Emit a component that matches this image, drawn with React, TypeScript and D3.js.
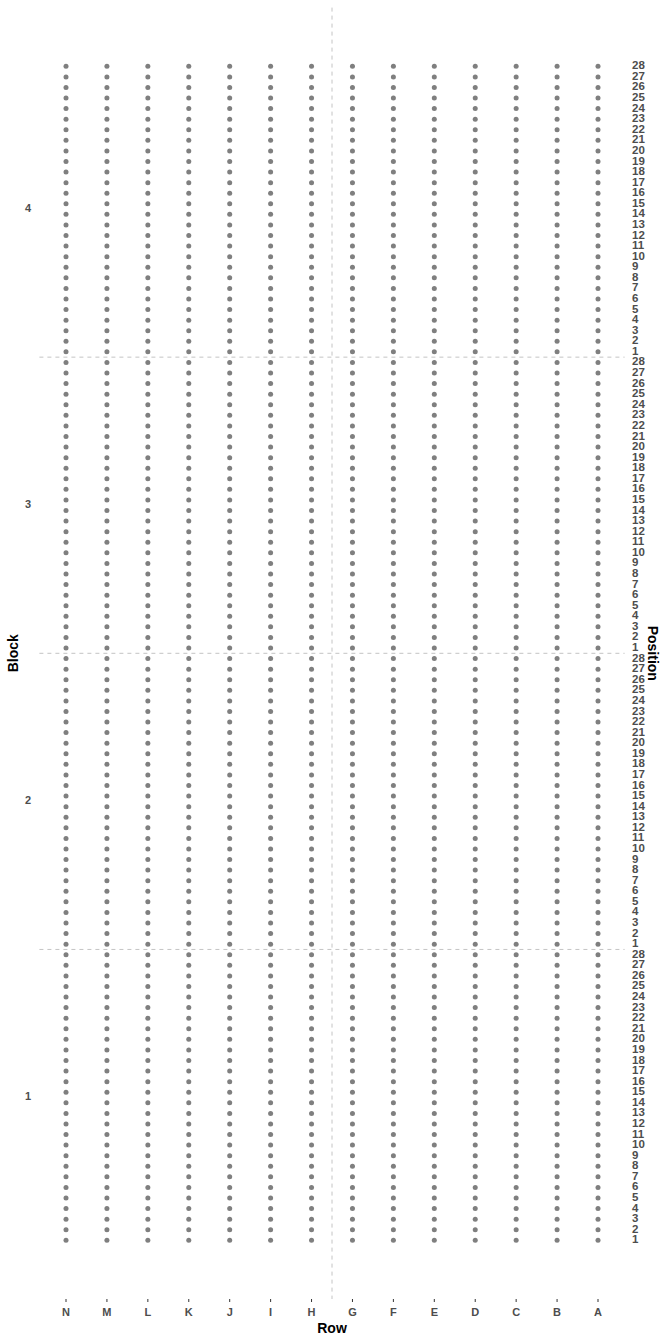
import React from "react";
import * as d3 from "d3";

const rows = ["N", "M", "L", "K", "J", "I", "H", "G", "F", "E", "D", "C", "B", "A"];
const blocks = [1, 2, 3, 4];
const positions = [
  1, 2, 3, 4, 5, 6, 7, 8, 9, 10, 11, 12, 13, 14,
  15, 16, 17, 18, 19, 20, 21, 22, 23, 24, 25, 26, 27, 28,
];
// dividers between blocks, and between the two halves of the rows
const blockBreaks = [27.5, 55.5, 83.5];
const rowBreak = 6.5;

const W = 672;
const H = 1344;

const App: React.FC = () => {
  const n = positions.length;
  const total = blocks.length * n;

  const x = d3.scaleLinear().domain([0, rows.length - 1]).range([66, 598]);
  const y = d3.scaleLinear().domain([0, total - 1]).range([1240.3, 66.3]);

  const padX = (rows.length - 1) * 0.05;
  const padY = (total - 1) * 0.05;
  const x0 = x(-padX);
  const x1 = x(rows.length - 1 + padX);
  const y0 = y(total - 1 + padY);
  const y1 = y(-padY);

  const idx = (b: number, p: number) => (b - 1) * n + (p - 1);
  const cells = d3.cross(blocks, positions);

  const axisFont = "Liberation Sans, Arial, sans-serif";
  const tickColor = "#4d4d4d";

  return (
    <svg width={W} height={H} style={{ display: "block", position: "absolute", left: 0, top: 0 }}>
      <rect width={W} height={H} fill="#ffffff" />

      {/* grid dividers */}
      {blockBreaks.map((b) => (
        <line
          key={"hb" + b}
          x1={x0}
          x2={x1}
          y1={y(b)}
          y2={y(b)}
          stroke="#c4c4c4"
          strokeWidth={1}
          strokeDasharray="4 4"
        />
      ))}
      <line
        x1={x(rowBreak)}
        x2={x(rowBreak)}
        y1={y0}
        y2={y1}
        stroke="#c4c4c4"
        strokeWidth={1}
        strokeDasharray="4 4"
      />

      {/* dots */}
      <g fill="#7f7f7f">
        {rows.map((r, i) =>
          cells.map(([b, p]) => (
            <circle key={r + b + "-" + p} cx={x(i)} cy={y(idx(b, p))} r={2.5} />
          ))
        )}
      </g>

      {/* bottom axis */}
      <g fontFamily={axisFont} fontWeight="bold" fontSize={11} fill={tickColor}>
        {rows.map((r, i) => (
          <g key={r}>
            <line x1={x(i)} x2={x(i)} y1={y1} y2={y1 + 3} stroke="#333333" strokeWidth={1} />
            <text x={x(i)} y={y1 + 14} textAnchor="middle" dominantBaseline="middle">
              {r}
            </text>
          </g>
        ))}
      </g>

      {/* left axis: blocks */}
      <g fontFamily={axisFont} fontWeight="bold" fontSize={11} fill={tickColor}>
        {blocks.map((b) => (
          <text key={b} x={28} y={y(idx(b, 1) + (n - 1) / 2)} textAnchor="middle" dominantBaseline="middle">
            {b}
          </text>
        ))}
      </g>

      {/* right axis: positions */}
      <g fontFamily={axisFont} fontWeight="bold" fontSize={11.5} fill={tickColor}>
        {cells.map(([b, p]) => (
          <text key={b + "-" + p} x={632} y={y(idx(b, p))} textAnchor="start" dominantBaseline="middle">
            {p}
          </text>
        ))}
      </g>

      {/* axis titles */}
      <g fontFamily={axisFont} fontWeight="bold" fontSize={14} fill="#000000">
        <text x={(x0 + x1) / 2} y={1329} textAnchor="middle" dominantBaseline="middle">
          Row
        </text>
        <text
          transform={`translate(14,${(y0 + y1) / 2}) rotate(-90)`}
          textAnchor="middle"
          dominantBaseline="middle"
        >
          Block
        </text>
        <text
          transform={`translate(652,${(y0 + y1) / 2}) rotate(90)`}
          textAnchor="middle"
          dominantBaseline="middle"
        >
          Position
        </text>
      </g>
    </svg>
  );
};

export default App;
